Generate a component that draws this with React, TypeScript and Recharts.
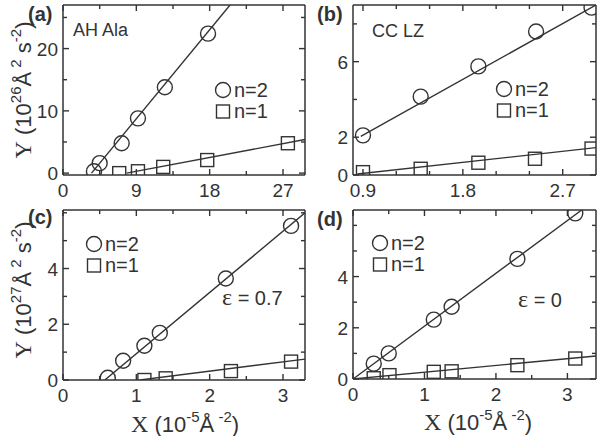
import React from 'react';
import { ScatterChart, Scatter, XAxis, YAxis } from 'recharts';

const INK = '#333';
const SANS = '"Liberation Sans", Arial, sans-serif';
const SERIF = '"Liberation Serif", "Times New Roman", serif';

// (a) AH Ala
const aCircleX = [3.8, 4.5, 7.2, 9.2, 12.5, 17.8];
const aCircleY = [0.3, 1.6, 4.8, 8.8, 13.8, 22.4];
const aSquareX = [6.9, 9.2, 12.3, 17.7, 27.6];
const aSquareY = [0, 0.3, 1.0, 2.1, 4.8];
const aFit2X = [3.5, 20.5];
const aFit2Y = [0, 27];
const aFit1X = [7.8, 29.7];
const aFit1Y = [0, 5.4];
const aXTicks = [0, 4.5, 9, 13.5, 18, 22.5, 27];
const aXLabels = [0, 9, 18, 27];
const aYTicks = [0, 5, 10, 15, 20, 25];
const aYLabels = [0, 10, 20];

// (b) CC LZ
const bCircleX = [0.9, 1.42, 1.94, 2.46, 2.96];
const bCircleY = [2.1, 4.15, 5.75, 7.6, 8.86];
const bSquareX = [0.9, 1.42, 1.94, 2.45, 2.96];
const bSquareY = [0.15, 0.33, 0.65, 0.86, 1.4];
const bFit2X = [0.88, 3.0];
const bFit2Y = [2.05, 9.0];
const bFit1X = [0.85, 3.0];
const bFit1Y = [0.05, 1.45];
const bXTicks = [0.9, 1.2, 1.5, 1.8, 2.1, 2.4, 2.7];
const bXLabels = [0.9, 1.8, 2.7];
const bYTicks = [0, 2, 4, 6, 8];
const bYLabels = [0, 2, 6];

// (c) eps = 0.7
const cCircleX = [0.61, 0.82, 1.11, 1.32, 2.22, 3.11];
const cCircleY = [0.08, 0.69, 1.23, 1.69, 3.64, 5.53];
const cSquareX = [1.11, 1.4, 2.29, 3.11];
const cSquareY = [0.0, 0.06, 0.32, 0.66];
const cFit2X = [0.57, 3.3];
const cFit2Y = [0, 6.0];
const cFit1X = [1.05, 3.3];
const cFit1Y = [0, 0.75];
const cXTicks = [0, 0.5, 1, 1.5, 2, 2.5, 3];
const cXLabels = [0, 1, 2, 3];
const cYTicks = [0, 1, 2, 3, 4, 5, 6];
const cYLabels = [0, 2, 4];

// (d) eps = 0
const dCircleX = [0.29, 0.5, 1.13, 1.38, 2.3, 3.11];
const dCircleY = [0.6, 1.0, 2.32, 2.82, 4.69, 6.47];
const dSquareX = [0.29, 0.51, 1.13, 1.38, 2.3, 3.11];
const dSquareY = [0.03, 0.15, 0.28, 0.3, 0.54, 0.8];
const dFit2X = [0, 3.2];
const dFit2Y = [0, 6.6];
const dFit1X = [0, 3.4];
const dFit1Y = [0, 0.9];
const dXTicks = [0, 0.5, 1, 1.5, 2, 2.5, 3];
const dXLabels = [0, 1, 2, 3];
const dYTicks = [0, 1, 2, 3, 4, 5, 6];
const dYLabels = [0, 2, 4];

type Pt = { x: number; y: number };
const zip = (xs: number[], ys: number[]): Pt[] => xs.map((x, i) => ({ x, y: ys[i] }));

type Side = 'bottom' | 'left' | 'top' | 'right';

const isIn = (list: number[], v: number) => list.some((l) => Math.abs(l - v) < 1e-9);

// ticks point inwards, labels sit outside; x/y given by recharts is the axis line position
function makeTick(side: Side, labels: number[]) {
  return (p: any) => {
    const v = p.payload.value as number;
    const major = isIn(labels, v);
    const len = major ? 6 : 4;
    const { x, y } = p;
    let line;
    let label = null;
    if (side === 'bottom') {
      line = <line x1={x} y1={y} x2={x} y2={y - len} stroke={INK} strokeWidth={1.4} />;
      if (major)
        label = (
          <text x={x} y={y + 22} textAnchor="middle" fontSize={19} fontFamily={SANS} fill={INK}>
            {String(v)}
          </text>
        );
    } else if (side === 'top') {
      line = <line x1={x} y1={y} x2={x} y2={y + len} stroke={INK} strokeWidth={1.4} />;
    } else if (side === 'left') {
      line = <line x1={x} y1={y} x2={x + len} y2={y} stroke={INK} strokeWidth={1.4} />;
      if (major)
        label = (
          <text x={x - 5} y={y + 7} textAnchor="end" fontSize={19} fontFamily={SANS} fill={INK}>
            {String(v)}
          </text>
        );
    } else {
      line = <line x1={x} y1={y} x2={x - len} y2={y} stroke={INK} strokeWidth={1.4} />;
    }
    return (
      <g>
        {line}
        {label}
      </g>
    );
  };
}

const Circle = (p: any) => (
  <circle cx={p.cx} cy={p.cy} r={7.5} fill="none" stroke={INK} strokeWidth={1.4} />
);
const Square = (p: any) => (
  <rect x={p.cx - 6.5} y={p.cy - 6.5} width={13} height={13} fill="none" stroke={INK} strokeWidth={1.4} />
);
const Nothing = () => <g />;

interface PanelProps {
  box: { l: number; t: number; r: number; b: number };
  xDomain: [number, number];
  yDomain: [number, number];
  xTicks: number[];
  xLabels: number[];
  yTicks: number[];
  yLabels: number[];
  circles: Pt[];
  squares: Pt[];
  fit2: Pt[];
  fit1: Pt[];
}

const W = 601;
const H = 436;
const AX = 1; // axis thickness reserved by recharts

function Panel(props: PanelProps) {
  const { box } = props;
  const axisLine = { stroke: INK, strokeWidth: 1.5 };
  const common = {
    type: 'number' as const,
    allowDataOverflow: true,
    interval: 0 as const,
    tickSize: 0,
    tickMargin: 0,
    tickLine: false,
    axisLine,
  };
  return (
    <div style={{ position: 'absolute', left: 0, top: 0 }}>
      <ScatterChart
        width={W}
        height={H}
        margin={{ left: box.l - AX, top: box.t - AX, right: W - box.r - AX, bottom: H - box.b - AX }}
      >
        <XAxis
          {...common}
          xAxisId="b"
          dataKey="x"
          orientation="bottom"
          height={AX}
          domain={props.xDomain}
          ticks={props.xTicks}
          tick={makeTick('bottom', props.xLabels)}
        />
        <XAxis
          {...common}
          xAxisId="t"
          dataKey="x"
          orientation="top"
          height={AX}
          domain={props.xDomain}
          ticks={props.xTicks}
          tick={makeTick('top', props.xLabels)}
        />
        <YAxis
          {...common}
          yAxisId="l"
          dataKey="y"
          orientation="left"
          width={AX}
          domain={props.yDomain}
          ticks={props.yTicks}
          tick={makeTick('left', props.yLabels)}
        />
        <YAxis
          {...common}
          yAxisId="r"
          dataKey="y"
          orientation="right"
          width={AX}
          domain={props.yDomain}
          ticks={props.yTicks}
          tick={makeTick('right', props.yLabels)}
        />
        <Scatter xAxisId="b" yAxisId="l" data={props.fit2} line={{ stroke: INK, strokeWidth: 1.4 }} shape={Nothing} isAnimationActive={false} />
        <Scatter xAxisId="b" yAxisId="l" data={props.fit1} line={{ stroke: INK, strokeWidth: 1.4 }} shape={Nothing} isAnimationActive={false} />
        <Scatter xAxisId="b" yAxisId="l" data={props.circles} shape={Circle} isAnimationActive={false} />
        <Scatter xAxisId="b" yAxisId="l" data={props.squares} shape={Square} isAnimationActive={false} />
        <Scatter xAxisId="t" yAxisId="r" data={props.fit1} shape={Nothing} isAnimationActive={false} />
      </ScatterChart>
    </div>
  );
}

function YTitle({ x, y, exp }: { x: number; y: number; exp: string }) {
  return (
    <text transform={`translate(${x},${y}) rotate(-90)`} textAnchor="middle" fontSize={22} fontFamily={SANS} fill={INK}>
      <tspan fontFamily={SERIF} fontSize={24}>Y</tspan>
      <tspan> (10</tspan>
      <tspan dy={-10} fontSize={15}>{exp}</tspan>
      <tspan dy={10}>Å</tspan>
      <tspan dy={-10} fontSize={15}> 2</tspan>
      <tspan dy={10}> s</tspan>
      <tspan dy={-10} fontSize={15}>-2</tspan>
      <tspan dy={10}>)</tspan>
    </text>
  );
}

function XTitle({ x, y }: { x: number; y: number }) {
  return (
    <text x={x} y={y} textAnchor="middle" fontSize={22} fontFamily={SANS} fill={INK}>
      <tspan fontFamily={SERIF} fontSize={24}>X</tspan>
      <tspan> (10</tspan>
      <tspan dy={-10} fontSize={15}>-5</tspan>
      <tspan dy={10}>Å</tspan>
      <tspan dy={-10} fontSize={15}> -2</tspan>
      <tspan dy={10}>)</tspan>
    </text>
  );
}

function Key({ x, y }: { x: number; y: number }) {
  return (
    <g fontSize={20} fontFamily={SANS} fill={INK}>
      <circle cx={x} cy={y} r={7.5} fill="none" stroke={INK} strokeWidth={1.4} />
      <text x={x + 11} y={y + 7}>n=2</text>
      <rect x={x - 6.5} y={y + 15} width={13} height={13} fill="none" stroke={INK} strokeWidth={1.4} />
      <text x={x + 11} y={y + 28}>n=1</text>
    </g>
  );
}

export default function App() {
  return (
    <div style={{ position: 'absolute', left: 0, top: 0, width: W, height: H, background: '#fff' }}>
      <Panel
        box={{ l: 63, t: 5, r: 305, b: 175 }}
        xDomain={[0, 29.7]}
        yDomain={[-0.3, 27]}
        xTicks={aXTicks}
        xLabels={aXLabels}
        yTicks={aYTicks}
        yLabels={aYLabels}
        circles={zip(aCircleX, aCircleY)}
        squares={zip(aSquareX, aSquareY)}
        fit2={zip(aFit2X, aFit2Y)}
        fit1={zip(aFit1X, aFit1Y)}
      />
      <Panel
        box={{ l: 353, t: 5, r: 596, b: 175 }}
        xDomain={[0.81, 3.0]}
        yDomain={[0, 9]}
        xTicks={bXTicks}
        xLabels={bXLabels}
        yTicks={bYTicks}
        yLabels={bYLabels}
        circles={zip(bCircleX, bCircleY)}
        squares={zip(bSquareX, bSquareY)}
        fit2={zip(bFit2X, bFit2Y)}
        fit1={zip(bFit1X, bFit1Y)}
      />
      <Panel
        box={{ l: 63, t: 210, r: 305, b: 380 }}
        xDomain={[0, 3.3]}
        yDomain={[0, 6.1]}
        xTicks={cXTicks}
        xLabels={cXLabels}
        yTicks={cYTicks}
        yLabels={cYLabels}
        circles={zip(cCircleX, cCircleY)}
        squares={zip(cSquareX, cSquareY)}
        fit2={zip(cFit2X, cFit2Y)}
        fit1={zip(cFit1X, cFit1Y)}
      />
      <Panel
        box={{ l: 353, t: 210, r: 596, b: 379 }}
        xDomain={[0, 3.4]}
        yDomain={[0, 6.6]}
        xTicks={dXTicks}
        xLabels={dXLabels}
        yTicks={dYTicks}
        yLabels={dYLabels}
        circles={zip(dCircleX, dCircleY)}
        squares={zip(dSquareX, dSquareY)}
        fit2={zip(dFit2X, dFit2Y)}
        fit1={zip(dFit1X, dFit1Y)}
      />
      <svg width={W} height={H} style={{ position: 'absolute', left: 0, top: 0 }}>
        <g fontSize={20} fontWeight="bold" fontFamily={SANS} fill={INK}>
          <text x={28} y={21}>(a)</text>
          <text x={317} y={21}>(b)</text>
          <text x={28} y={224}>(c)</text>
          <text x={317} y={226}>(d)</text>
        </g>
        <g fontSize={18} fontFamily={SANS} fill={INK}>
          <text x={73} y={36}>AH Ala</text>
          <text x={372} y={37}>CC LZ</text>
        </g>
        <YTitle x={31} y={90} exp="26" />
        <YTitle x={31} y={290} exp="27" />
        <XTitle x={185} y={432} />
        <XTitle x={478} y={430} />
        <Key x={223} y={90} />
        <Key x={504} y={89} />
        <Key x={94} y={244} />
        <Key x={380} y={243} />
        <g fontSize={20} fontFamily={SANS} fill={INK}>
          <text x={222} y={305}>
            <tspan fontFamily={SERIF} fontSize={24}>ε</tspan> = 0.7
          </text>
          <text x={518} y={307}>
            <tspan fontFamily={SERIF} fontSize={24}>ε</tspan> = 0
          </text>
        </g>
      </svg>
    </div>
  );
}
